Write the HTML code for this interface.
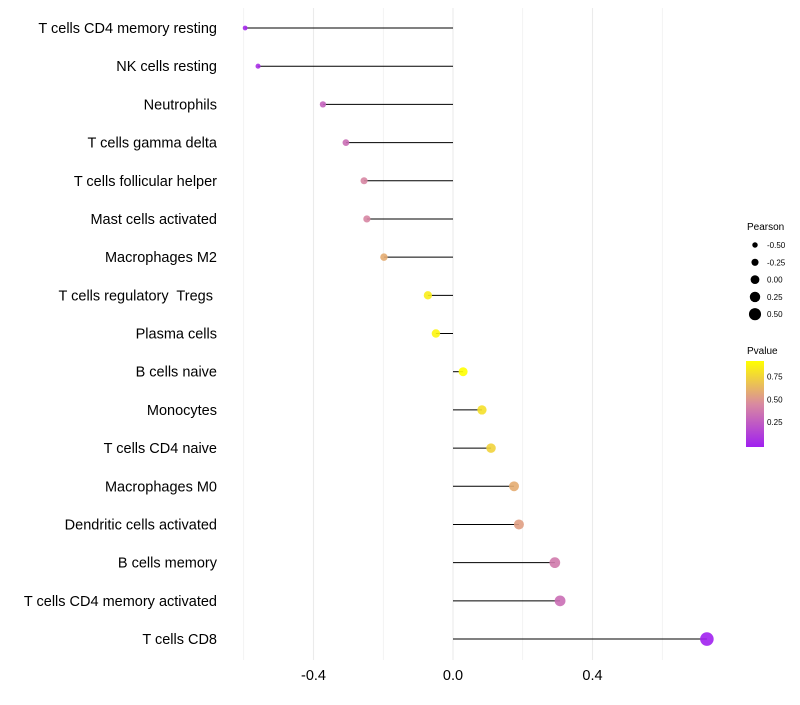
<!DOCTYPE html>
<html><head><meta charset="utf-8"><style>
body{margin:0;background:#fff;font-family:"Liberation Sans",sans-serif}
text{white-space:pre}
</style></head><body>
<svg id="chart" width="800" height="700" xmlns="http://www.w3.org/2000/svg" font-family="Liberation Sans, sans-serif">
<g id="grid"></g>
<g id="marks"></g>
<g id="ylabels"></g>
<g id="xlabels"></g>
<g>
<text x="747" y="230" font-size="10" fill="#000">Pearson</text>
<g id="sizeLeg"></g>
</g>
<g>
<text x="747" y="354" font-size="10" fill="#000">Pvalue</text>
<defs><linearGradient id="pg" x1="0" y1="1" x2="0" y2="0">
<stop offset="0" stop-color="#a020f0"/><stop offset="0.5" stop-color="#d98aa0"/><stop offset="1" stop-color="#ffff00"/></linearGradient></defs>
<rect x="746" y="361" width="18" height="86" fill="url(#pg)"/>
<g id="colLeg"></g>
</g>
</svg>
<script>
const categories=["T cells CD4 memory resting","NK cells resting","Neutrophils","T cells gamma delta","T cells follicular helper","Mast cells activated","Macrophages M2","T cells regulatory  Tregs ","Plasma cells","B cells naive","Monocytes","T cells CD4 naive","Macrophages M0","Dendritic cells activated","B cells memory","T cells CD4 memory activated","T cells CD8"];
const pearson=[-0.596,-0.559,-0.373,-0.307,-0.255,-0.247,-0.198,-0.072,-0.049,0.029,0.083,0.109,0.175,0.189,0.292,0.307,0.728];
const pvalue=[0.05,0.08,0.3,0.35,0.45,0.45,0.6,0.85,0.88,0.92,0.8,0.75,0.6,0.55,0.4,0.35,0.02];
const xTicks=[-0.4,0.0,0.4];
const xTickLabels=["-0.4","0.0","0.4"];
const xGrid=[-0.6,-0.2,0.2,0.6];
const sizeLegVals=[-0.5,-0.25,0,0.25,0.5];
const sizeLegLabels=["-0.50","-0.25","0.00","0.25","0.50"];
const colLegVals=[0.75,0.5,0.25];
const colLegLabels=["0.75","0.50","0.25"];
const NS="http://www.w3.org/2000/svg";
const X=v=>453+v*348.75;
const Y=i=>28+i*38.19;
const R=p=>2.4+(p+0.6)/1.33*4.4;
const pMin=0.016,pMax=0.92;
function lerp(a,b,t){return a.map((v,i)=>Math.round(v+(b[i]-v)*t));}
function col(p){let t=Math.max(0,Math.min(1,(p-pMin)/(pMax-pMin)));const a=[160,32,240],m=[217,138,160],b=[255,255,0];
const c=t<0.5?lerp(a,m,t*2):lerp(m,b,(t-0.5)*2);return `rgb(${c.join(",")})`;}
function mk(tag,attrs,parent){const e=document.createElementNS(NS,tag);for(const k in attrs)e.setAttribute(k,attrs[k]);parent.appendChild(e);return e;}
const grid=document.getElementById('grid');
xGrid.forEach(v=>{const l=mk('line',{x1:X(v),x2:X(v),y1:8,y2:660,stroke:'#ebebeb','stroke-width':0.6},grid);

});
xTicks.forEach(v=>{const l=mk('line',{x1:X(v),x2:X(v),y1:8,y2:660,stroke:'#ebebeb','stroke-width':1.1},grid);

});
const marks=document.getElementById('marks'),yl=document.getElementById('ylabels');
categories.forEach((c,i)=>{const y=Y(i);
const l=mk('line',{x1:X(0),x2:X(pearson[i]),y1:y,y2:y,stroke:'#000','stroke-width':1},marks);


const d=mk('circle',{cx:X(pearson[i]),cy:y,r:R(pearson[i]),fill:col(pvalue[i]),'fill-opacity':0.9},marks);


const t=mk('text',{x:217,y:y+5,'text-anchor':'end','font-size':14.5,fill:'#000'},yl);t.textContent=c;

});
const xl=document.getElementById('xlabels');
xTicks.forEach((v,i)=>{const t=mk('text',{x:X(v),y:680,'text-anchor':'middle','font-size':14.5,fill:'#000'},xl);t.textContent=xTickLabels[i];

});
const sl=document.getElementById('sizeLeg');
sizeLegVals.forEach((v,i)=>{const y=245+i*17.3;
const c=mk('circle',{cx:755,cy:y,r:R(v),fill:'#000'},sl);


const t=mk('text',{x:767,y:y+3,'font-size':8,fill:'#000'},sl);t.textContent=sizeLegLabels[i];

});
const cl=document.getElementById('colLeg');
colLegVals.forEach((v,i)=>{const y=447-(v-pMin)/(pMax-pMin)*86*0.95-4;
const t=mk('text',{x:767,y:y+3,'font-size':8,fill:'#000'},cl);t.textContent=colLegLabels[i];

});
</script>
</body></html>
